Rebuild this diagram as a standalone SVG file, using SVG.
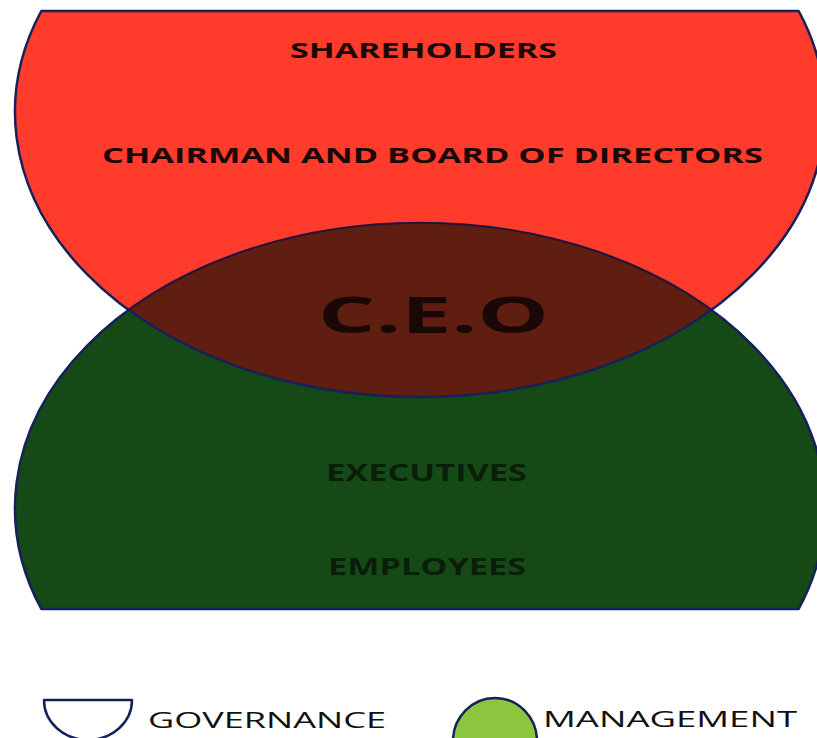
<svg xmlns="http://www.w3.org/2000/svg" width="817" height="738" viewBox="0 0 817 738">
  <style>
    .outline { stroke: #16205a; stroke-width: 2.5; stroke-linejoin: round; }
    .gov { fill: #ff3b2c; }
    .mgmt { fill: #154a16; }
    .ceo { fill: #5f1e10; stroke: #2a1030; stroke-width: 1.5; }
    .lbl { font-family: "Open Sans", "Liberation Sans", sans-serif; font-weight: 700; text-anchor: start; }
    .red-lbl { fill: #1c0807; font-size: 22px; }
    .green-lbl { fill: #0a1e09; font-size: 23px; }
    .ceo-lbl { fill: #1a0806; font-size: 50px; }
    .legend-lbl { font-family: "Open Sans", "Liberation Sans", sans-serif; font-size: 21px; fill: #111111; }
  </style>

  <rect x="0" y="0" width="817" height="738" fill="#ffffff"/>

  <!-- Governance: lower part of the upper ellipse, cut flat at the top -->
  <g id="governance">
    <path class="gov outline" d="M41.3,11 L798.7,11 A405,285 0 1 1 41.3,11 Z"/>
    <text class="lbl red-lbl" x="290" y="58" textLength="267" lengthAdjust="spacingAndGlyphs">SHAREHOLDERS</text>
    <text class="lbl red-lbl" x="102" y="163" textLength="661" lengthAdjust="spacingAndGlyphs">CHAIRMAN AND BOARD OF DIRECTORS</text>
  </g>

  <!-- Management: upper part of the lower ellipse, cut flat at the bottom -->
  <g id="management">
    <path class="mgmt outline" d="M41.3,609 A405,285 0 1 1 798.7,609 Z"/>
    <text class="lbl green-lbl" x="326" y="481" textLength="201" lengthAdjust="spacingAndGlyphs">EXECUTIVES</text>
    <text class="lbl green-lbl" x="328" y="575" textLength="198" lengthAdjust="spacingAndGlyphs">EMPLOYEES</text>
  </g>

  <!-- Overlap of the two ellipses -->
  <g id="ceo">
    <path class="ceo" d="M128.7,310 A405,285 0 0 0 711.3,310 A405,285 0 0 0 128.7,310 Z"/>
    <path fill="none" class="outline" d="M128.7,310 A405,285 0 0 0 711.3,310"/>
    <text class="lbl ceo-lbl" x="318" y="333" textLength="231" lengthAdjust="spacingAndGlyphs">C.E.O</text>
  </g>

  <!-- Legend -->
  <g id="legend-governance">
    <path d="M44,700 L132,700 A44,40 0 0 1 44,700 Z" fill="#ffffff" class="outline"/>
    <text class="legend-lbl" x="148" y="728" textLength="238" lengthAdjust="spacingAndGlyphs">GOVERNANCE</text>
  </g>
  <g id="legend-management">
    <ellipse cx="495" cy="741" rx="42" ry="43" fill="#8cc63e" class="outline"/>
    <text class="legend-lbl" x="543" y="727" textLength="254" lengthAdjust="spacingAndGlyphs">MANAGEMENT</text>
  </g>
</svg>
